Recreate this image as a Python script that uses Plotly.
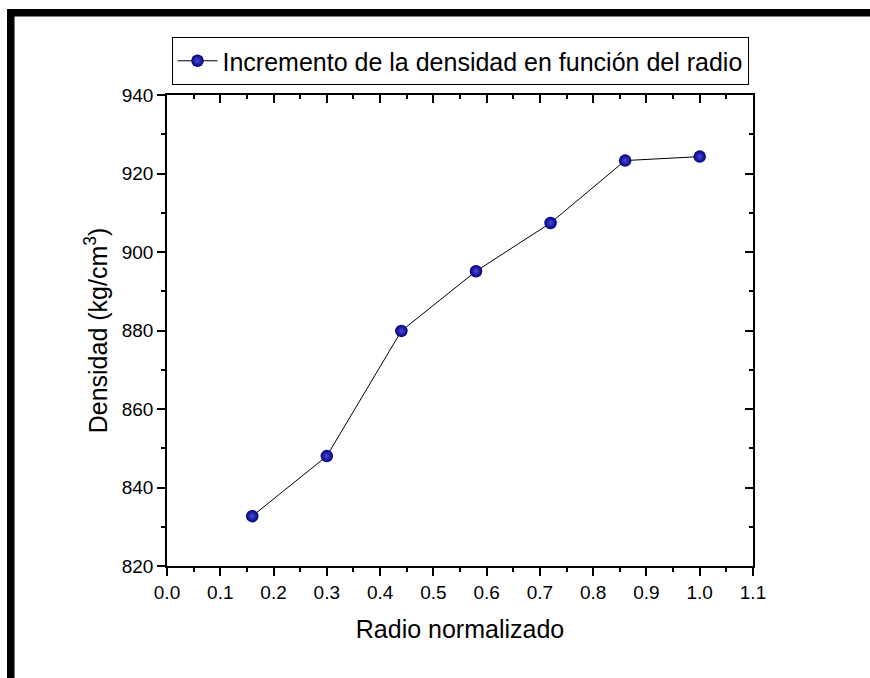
import plotly.graph_objects as go

radio = [0.16, 0.30, 0.44, 0.58, 0.72, 0.86, 1.00]
densidad = [832.7, 848.0, 879.9, 895.1, 907.4, 923.3, 924.3]
serie = "Incremento de la densidad en función del radio"

W, H = 870, 678
L, R, T, B = 167, 753, 95, 566  # plot area in pixels


def px_x(p):
    return (p - L) / (R - L)


def px_y(p):
    return (B - p) / (B - T)


fig = go.Figure()
fig.add_trace(go.Scatter(
    x=radio, y=densidad, mode="lines+markers", name=serie,
    line=dict(color="black", width=1),
    marker=dict(size=12.5, color="#000080",
                gradient=dict(type="radial", color="#4a4ad0"),
                line=dict(width=0)),
))
# invisible trace so secondary (top/right) axes render
fig.add_trace(go.Scatter(x=[radio[0]], y=[densidad[0]], xaxis="x2", yaxis="y2",
                         mode="markers", marker=dict(opacity=0), showlegend=False,
                         hoverinfo="skip"))

font = "Liberation Sans, Arial, sans-serif"
axcommon = dict(showgrid=False, zeroline=False, showline=True, linecolor="black",
                linewidth=1.6, tickcolor="black", tickwidth=1.5)

fig.update_layout(
    width=W, height=H,
    margin=dict(l=L, r=W - R, t=T, b=H - B, pad=0),
    paper_bgcolor="white", plot_bgcolor="white",
    font=dict(family=font, size=19, color="black"),
    showlegend=True,
    legend=dict(x=0.5, xanchor="center", y=px_y(37), yanchor="top",
                bordercolor="black", borderwidth=1, bgcolor="white",
                font=dict(size=25, family=font), orientation="h",
                itemwidth=40, tracegroupgap=0),
    xaxis=dict(range=[0, 1.1], dtick=0.1, tick0=0, tickformat=".1f",
               ticks="outside", ticklen=8,
               minor=dict(dtick=0.05, ticks="outside", ticklen=4, tickcolor="black", tickwidth=1.5),
               title=dict(text="Radio normalizado", font=dict(size=25), standoff=19),
               **axcommon),
    yaxis=dict(range=[820, 940], dtick=20, tick0=820,
               ticks="outside", ticklen=8,
               minor=dict(dtick=10, ticks="outside", ticklen=4, tickcolor="black", tickwidth=1.5),
               title=dict(text="Densidad (kg/cm<sup>3</sup>)", font=dict(size=25), standoff=7),
               **axcommon),
    xaxis2=dict(range=[0, 1.1], dtick=0.1, tick0=0, overlaying="x", side="top",
                anchor="y", ticks="inside", ticklen=8, showticklabels=False,
                minor=dict(dtick=0.05, ticks="inside", ticklen=4, tickcolor="black", tickwidth=1.5),
                **axcommon),
    yaxis2=dict(range=[820, 940], dtick=20, tick0=820, overlaying="y", side="right",
                anchor="x", ticks="inside", ticklen=8, showticklabels=False,
                minor=dict(dtick=10, ticks="inside", ticklen=4, tickcolor="black", tickwidth=1.5),
                **axcommon),
)

# black frame bars (top and left)
fig.add_shape(type="rect", xref="paper", yref="paper",
              x0=px_x(7), x1=px_x(872), y0=px_y(16.5), y1=px_y(9),
              fillcolor="black", line=dict(width=0), layer="above")
fig.add_shape(type="rect", xref="paper", yref="paper",
              x0=px_x(7), x1=px_x(14.5), y0=px_y(680), y1=px_y(9),
              fillcolor="black", line=dict(width=0), layer="above")

fig.write_html("out.html", config={"displayModeBar": False})

# remove default page margin so the figure sits at the window origin
with open("out.html", "r", encoding="utf-8") as f:
    html = f.read()
html = html.replace("<body>", '<body style="margin:0;padding:0;overflow:hidden">', 1)
with open("out.html", "w", encoding="utf-8") as f:
    f.write(html)
